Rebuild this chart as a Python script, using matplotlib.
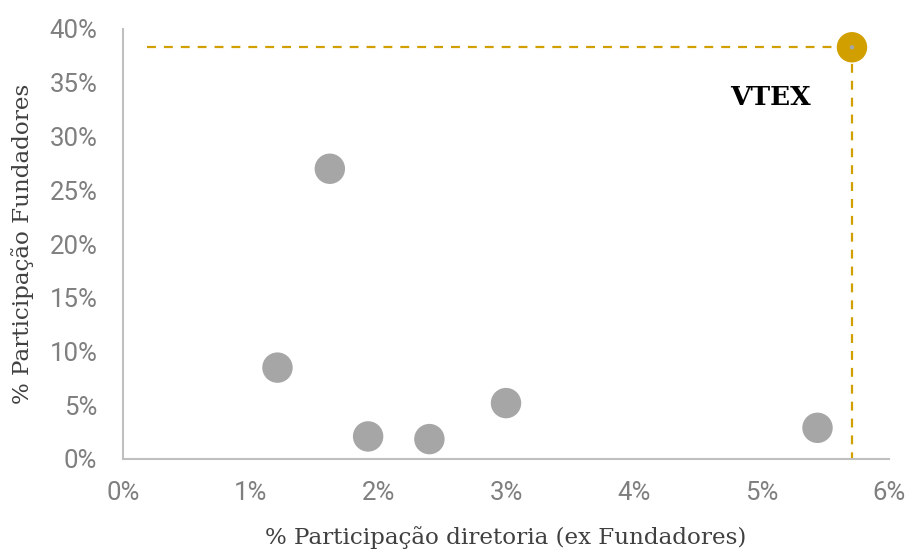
import matplotlib
matplotlib.use("Agg")
import matplotlib.pyplot as plt
from matplotlib.ticker import FuncFormatter

# Data (fractions in %)
diretoria = [1.21, 1.62, 1.92, 2.40, 3.00, 5.44]
fundadores = [8.5, 27.0, 2.1, 1.85, 5.2, 2.9]
vtex_x = 5.71
vtex_y = 38.3
vtex_label = "VTEX"
x_ticks = [0, 1, 2, 3, 4, 5, 6]
y_ticks = [0, 5, 10, 15, 20, 25, 30, 35, 40]

fig = plt.figure(figsize=(9.08, 5.49), dpi=100)
ax = fig.add_axes([123/908, 1-459/549, (889-123)/908, (459-29)/549])

ax.set_xlim(0, 6.0)
ax.set_ylim(0, 40)

gray = "#a6a6a6"
gold = "#D29F00"

ax.scatter(diretoria, fundadores, s=480, color=gray, edgecolors="none", zorder=3)

# dashed guides
ax.plot([0.19, vtex_x], [vtex_y, vtex_y], linestyle=(0, (4, 3.6)), color=gold, lw=1.6, zorder=2)
ax.plot([vtex_x, vtex_x], [vtex_y, 0], linestyle=(0, (4, 3.6)), color=gold, lw=1.6, zorder=2)
ax.scatter([vtex_x], [vtex_y], s=480, color=gold, edgecolors="none", zorder=4)
ax.scatter([vtex_x], [vtex_y], s=10, color=gray, edgecolors="none", zorder=5)

ax.text(5.07, 33.6, vtex_label, fontsize=19, fontweight="bold", family="DejaVu Serif",
        ha="center", va="center", color="black")

ax.set_xticks(x_ticks)
ax.set_yticks(y_ticks)
ax.xaxis.set_major_formatter(FuncFormatter(lambda v, p: f"{v:.0f}%"))
ax.yaxis.set_major_formatter(FuncFormatter(lambda v, p: f"{v:.0f}%"))
ax.tick_params(axis="both", length=0, labelsize=18.5, labelcolor="#7f7f7f")
ax.tick_params(axis="x", pad=16)
ax.tick_params(axis="y", pad=18.5)
for lab in ax.get_xticklabels() + ax.get_yticklabels():
    lab.set_family("Roboto")
    lab.set_fontweight("normal")

for s in ["top", "right"]:
    ax.spines[s].set_visible(False)
for s in ["left", "bottom"]:
    ax.spines[s].set_color("#bfbfbf")
    ax.spines[s].set_linewidth(1.5)

ax.set_xlabel("% Participação diretoria (ex Fundadores)", fontsize=16.6, family="DejaVu Serif",
              color="#404040", labelpad=15)
ax.set_ylabel("% Participação Fundadores", fontsize=16.6, family="DejaVu Serif",
              color="#404040", labelpad=11)

fig.savefig("out.png", dpi=100)
